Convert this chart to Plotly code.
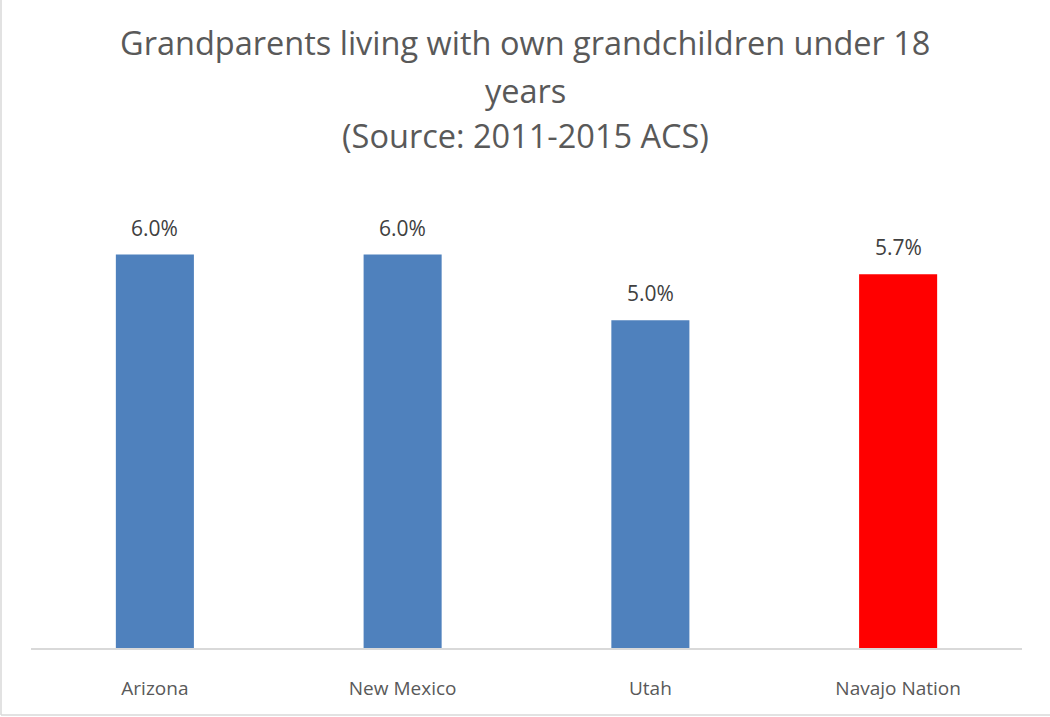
import plotly.graph_objects as go

# ---- data ----
states = ["Arizona", "New Mexico", "Utah", "Navajo Nation"]
pct_grandparents = [6.0, 6.0, 5.0, 5.7]
bar_colors = ["#4f81bd", "#4f81bd", "#4f81bd", "#ff0000"]
title_lines = ["Grandparents living with own grandchildren under 18",
               "years",
               "(Source: 2011-2015 ACS)"]

W, H = 1050, 717
ml, mr, mt, mb = 31, 28, 189, 69
pw, ph = W - ml - mr, H - mt - mb

fig = go.Figure()
fig.add_trace(go.Bar(
    x=states, y=pct_grandparents,
    marker=dict(color=bar_colors, line=dict(width=0)),
    width=0.315,
    hoverinfo="x+y",
))

# value labels above bars
for s, v in zip(states, pct_grandparents):
    fig.add_annotation(x=s, y=v, text=f"{v:.1f}%", showarrow=False,
                       yanchor="bottom", yshift=11,
                       font=dict(size=21, color="#404040"))

# title lines (Excel-like spacing)
def paper_y(py):
    return (H - mb - py) / ph

for line, py in zip(title_lines, [43, 90, 136]):
    fig.add_annotation(xref="paper", yref="paper", x=0.5 - (ml - mr) / 2 / pw, y=paper_y(py),
                       text=line, showarrow=False, xanchor="center", yanchor="middle",
                       font=dict(size=32.5, color="#595959"))

# chart-area border (left and bottom edges visible)
fig.add_shape(type="line", xref="paper", yref="paper",
              x0=(1 - ml) / pw, x1=(1 - ml) / pw, y0=paper_y(H - 2), y1=paper_y(-5),
              line=dict(color="#d9d9d9", width=1.5))
fig.add_shape(type="line", xref="paper", yref="paper",
              x0=(1 - ml) / pw, x1=(W + 5 - ml) / pw, y0=paper_y(H - 2), y1=paper_y(H - 2),
              line=dict(color="#d9d9d9", width=1.5))

fig.update_layout(
    width=W, height=H,
    margin=dict(l=ml, r=mr, t=mt, b=mb),
    paper_bgcolor="white", plot_bgcolor="white",
    font=dict(family="Open Sans, sans-serif", color="#595959"),
    showlegend=False,
)
fig.update_xaxes(showline=True, linecolor="#d9d9d9", linewidth=1.5,
                 ticks="", tickfont=dict(size=19, color="#595959"), ticklabelstandoff=22)
fig.update_yaxes(range=[0, 7], visible=False, showgrid=False, zeroline=False)

fig.write_html("out.html", config={"displayModeBar": False},
               post_script="document.body.style.margin='0';")
